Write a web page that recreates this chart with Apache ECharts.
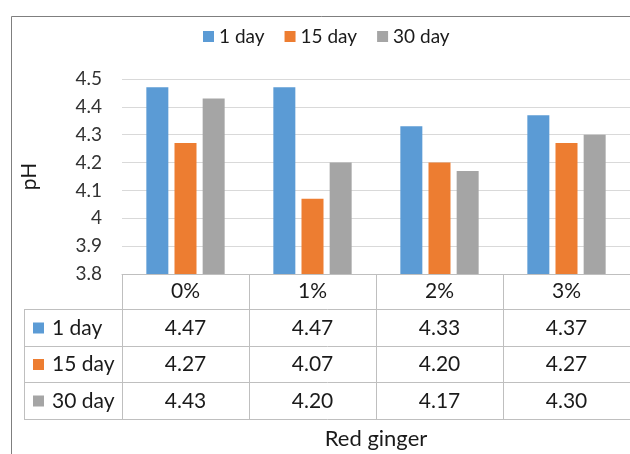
<!DOCTYPE html>
<html>
<head>
<meta charset="utf-8">
<script src="https://cdn.jsdelivr.net/npm/echarts@6/dist/echarts.min.js"></script>
<style>
html,body{margin:0;padding:0;background:#fff;}
#c{width:630px;height:454px;}
</style>
</head>
<body>
<div id="c"></div>
<script>
var categories = ['0%', '1%', '2%', '3%'];
var seriesNames = ['1 day', '15 day', '30 day'];
var day1 = [4.47, 4.47, 4.33, 4.37];
var day15 = [4.27, 4.07, 4.20, 4.27];
var day30 = [4.43, 4.20, 4.17, 4.30];
var colors = ['#5B9BD5', '#ED7D31', '#A5A5A5'];
var allData = [day1, day15, day30];

var FONT = 'Lato';
var TXT = '#1a1a1a';
var chart = echarts.init(document.getElementById('c'));

var option = {
  animation: false,
  color: colors,
  textStyle: { fontFamily: FONT },
  legend: {
    left: 198, top: 22,
    itemWidth: 11, itemHeight: 11, itemGap: 20,
    icon: 'rect',
    textStyle: { fontFamily: FONT, fontSize: 19, color: TXT },
    data: seriesNames
  },
  grid: { left: 122, right: -1, top: 79, bottom: 180 },
  xAxis: {
    type: 'category',
    data: categories,
    name: 'Red ginger',
    nameLocation: 'middle',
    nameGap: 154,
    nameTextStyle: { fontFamily: FONT, fontSize: 22, color: TXT },
    axisLine: { show: true, lineStyle: { color: '#BFBFBF', width: 1 } },
    axisTick: { show: true, length: 145, lineStyle: { color: '#BFBFBF' } },
    axisLabel: { fontFamily: FONT, fontSize: 21, color: TXT, margin: 7, lineHeight: 21 }
  },
  yAxis: {
    type: 'value',
    min: 3.8, max: 4.5, interval: 0.1,
    name: 'pH',
    nameLocation: 'middle',
    nameRotate: 90,
    nameGap: 82,
    nameTextStyle: { fontFamily: FONT, fontSize: 21, color: TXT },
    axisLine: { show: false },
    axisTick: { show: false },
    axisLabel: { fontFamily: FONT, fontSize: 19, color: '#333', margin: 20 },
    splitLine: { lineStyle: { color: '#D9D9D9' } }
  },
  series: seriesNames.map(function (n, i) {
    return {
      name: n, type: 'bar', data: allData[i],
      barWidth: 22, barGap: '28%',
      itemStyle: { color: colors[i] }
    };
  })
};
chart.setOption(option);

// Data table below the plot, built from the arrays
var lineColor = '#BFBFBF';
var tableLeft = 24, tableRight = 640;
var rowLines = [309, 346, 382, 419];
var g = [];
g.push({ type: 'rect', shape: { x: 11.5, y: 16.5, width: 640, height: 460 }, style: { fill: null, stroke: '#7F7F7F', lineWidth: 1 }, silent: true });
rowLines.forEach(function (y) {
  g.push({ type: 'line', shape: { x1: tableLeft, y1: y + 0.5, x2: tableRight, y2: y + 0.5 }, style: { stroke: lineColor, lineWidth: 1 }, silent: true });
});
g.push({ type: 'line', shape: { x1: tableLeft + 0.5, y1: rowLines[0], x2: tableLeft + 0.5, y2: rowLines[3] + 1 }, style: { stroke: lineColor, lineWidth: 1 }, silent: true });
for (var r = 0; r < 3; r++) {
  var cy = (rowLines[r] + rowLines[r + 1]) / 2 + 0.5;
  g.push({ type: 'rect', shape: { x: 33, y: cy - 5.5, width: 11, height: 11 }, style: { fill: colors[r] }, silent: true });
  g.push({ type: 'text', x: 52, y: cy, style: { text: seriesNames[r], fontFamily: FONT, fontSize: 21, fill: TXT, textAlign: 'left', textVerticalAlign: 'middle' }, silent: true });
  for (var c = 0; c < categories.length; c++) {
    var px = chart.convertToPixel({ xAxisIndex: 0 }, categories[c]);
    g.push({ type: 'text', x: px, y: cy, style: { text: allData[r][c].toFixed(2), fontFamily: FONT, fontSize: 21, fill: TXT, textAlign: 'center', textVerticalAlign: 'middle' }, silent: true });
  }
}
chart.setOption({ graphic: g });
</script>
</body>
</html>
